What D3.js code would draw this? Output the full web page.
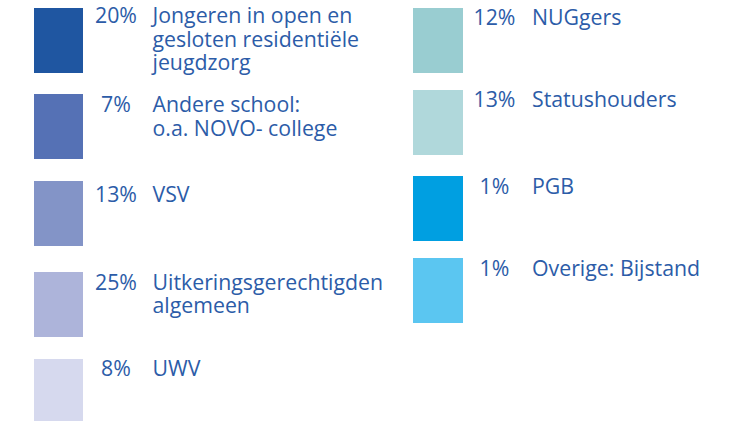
<!DOCTYPE html>
<html><head><meta charset="utf-8">
<script src="https://cdn.jsdelivr.net/npm/d3@7"></script>
<style>
html,body{margin:0;padding:0;background:#fff;}
svg{display:block;}
text{font-variant-ligatures:none;}
</style></head>
<body>
<svg id="chart" width="732" height="421"></svg>
<script>
// Data
const leftCategories = ["Jongeren in open en gesloten residentiële jeugdzorg","Andere school: o.a. NOVO- college","VSV","Uitkeringsgerechtigden algemeen","UWV"];
const leftLines = [["Jongeren in open en","gesloten residentiële","jeugdzorg"],["Andere school:","o.a. NOVO- college"],["VSV"],["Uitkeringsgerechtigden","algemeen"],["UWV"]];
const leftValues = [20,7,13,25,8];
const leftColors = ["#1f56a1","#5571b5","#8394c7","#adb4da","#d6d9ee"];

const rightCategories = ["NUGgers","Statushouders","PGB","Overige: Bijstand"];
const rightLines = [["NUGgers"],["Statushouders"],["PGB"],["Overige: Bijstand"]];
const rightValues = [12,13,1,1];
const rightColors = ["#99cdd1","#b0d8db","#009fe1","#5bc6f1"];

// Layout
const svg = d3.select("#chart");
const textColor = "#2c5ca8";
const font = "'Open Sans', 'Noto Sans', sans-serif";
const fontSize = 21.3;
const lineH = 23.3;

const columns = [
  {cats:leftCategories, lines:leftLines, vals:leftValues, colors:leftColors,
   tops:[8,94,181,272,359], base:[23.3,112.3,201.7,290,375.7],
   x0:34, w:49, pctX:116, labX:152.5},
  {cats:rightCategories, lines:rightLines, vals:rightValues, colors:rightColors,
   tops:[8,90,176,258], base:[25,106.7,194.3,276],
   x0:413, w:50, pctX:494.5, labX:532}
];

columns.forEach(col => {
  const yTop = d3.scaleOrdinal(col.cats, col.tops);
  const yBase = d3.scaleOrdinal(col.cats, col.base);
  const color = d3.scaleOrdinal(col.cats, col.colors);
  const items = col.cats.map((c,i)=>({cat:c, lines:col.lines[i], val:col.vals[i]}));
  const g = svg.append("g");
  g.selectAll("rect").data(items).join("rect")
    .attr("x", col.x0).attr("y", d=>yTop(d.cat))
    .attr("width", col.w).attr("height", 65)
    .attr("fill", d=>color(d.cat));
  g.selectAll("text.pct").data(items).join("text")
    .attr("class","pct")
    .attr("x", col.pctX).attr("y", d=>yBase(d.cat))
    .attr("text-anchor","middle")
    .attr("font-family", font).attr("font-size", fontSize)
    .attr("fill", textColor)
    .text(d=>d3.format(".0f")(d.val)+"%");
  const lab = g.selectAll("text.lab").data(items).join("text")
    .attr("class","lab")
    .attr("x", col.labX).attr("y", d=>yBase(d.cat))
    .attr("font-family", font).attr("font-size", fontSize)
    .attr("fill", textColor);
  lab.selectAll("tspan").data(d=>d.lines).join("tspan")
    .attr("x", col.labX).attr("dy",(d,i)=> i===0?0:lineH)
    .text(d=>d);
});
</script>
</body></html>
